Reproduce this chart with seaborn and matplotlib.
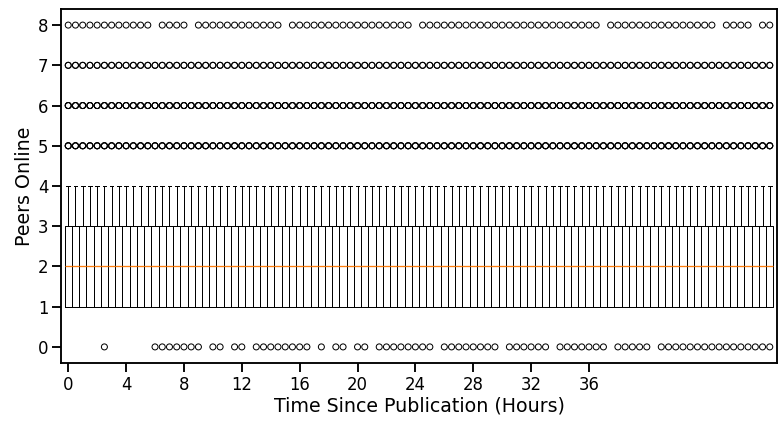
import matplotlib
matplotlib.use("Agg")
import matplotlib.pyplot as plt
import numpy as np
import pandas as pd
import seaborn as sns

# ---- data ----
# one box per half-hour bin, 0.0 .. 48.5 hours (98 bins)
n_bins = 98
bin_hours = [0.5 * i for i in range(n_bins)]

# every box shows identical summary statistics
box_q1 = [1] * n_bins
box_median = [2] * n_bins
box_q3 = [3] * n_bins
box_whislo = [1] * n_bins
box_whishi = [4] * n_bins

# outliers present in every bin at these peer counts
always_outliers = [5, 6, 7]
# outliers at 8 peers: bins (hours) without one
missing_8_hours = [6.0, 8.5, 15.0, 24.0, 37.0, 45.0, 47.5]
# outliers at 0 peers: bins (hours) that have one
zero_hours = [2.5,
              6.0, 6.5, 7.0, 7.5, 8.0, 8.5, 9.0,
              10.0, 10.5,
              11.5, 12.0,
              13.0, 13.5, 14.0, 14.5, 15.0, 15.5, 16.0, 16.5,
              17.5,
              18.5, 19.0,
              20.0, 20.5,
              21.5, 22.0, 22.5, 23.0, 23.5, 24.0, 24.5, 25.0,
              26.0, 26.5, 27.0, 27.5, 28.0, 28.5, 29.0, 29.5,
              30.5, 31.0, 31.5, 32.0, 32.5, 33.0,
              34.0, 34.5, 35.0, 35.5, 36.0, 36.5, 37.0,
              38.0, 38.5, 39.0, 39.5, 40.0,
              41.0, 41.5, 42.0, 42.5, 43.0, 43.5, 44.0, 44.5,
              45.0, 45.5, 46.0, 46.5, 47.0, 47.5, 48.0, 48.5]
# how many identical outliers overlap at each level (darkness of the rows)
outlier_repeats = {0: 1, 5: 3, 6: 3, 7: 2, 8: 1}

x_tick_values = [0, 4, 8, 12, 16, 20, 24, 28, 32, 36]
y_tick_values = [0, 1, 2, 3, 4, 5, 6, 7, 8]

# ---- figure ----
sns.set_context("talk")
plt.rcParams['font.family'] = ['DejaVu Sans']

W, H = 779, 423
fig = plt.figure(figsize=(W / 72, H / 72), dpi=72)
ax = fig.add_axes([61 / W, 1 - 363 / H, (777 - 61) / W, (363 - 9) / H])

stats = []
for q1, med, q3, lo, hi in zip(box_q1, box_median, box_q3, box_whislo, box_whishi):
    stats.append(dict(q1=q1, med=med, q3=q3, whislo=lo, whishi=hi, fliers=[]))

ax.bxp(stats, positions=bin_hours, widths=0.5, showfliers=False,
       manage_ticks=False,
       boxprops=dict(color="black", linewidth=1),
       whiskerprops=dict(color="black", linewidth=1),
       capprops=dict(color="black", linewidth=1),
       medianprops=dict(color="#ff7f0e", linewidth=1.3))

# outlier points
fx, fy = [], []
for h in bin_hours:
    for v in always_outliers:
        fx += [h] * outlier_repeats[v]
        fy += [v] * outlier_repeats[v]
    if h not in missing_8_hours:
        fx += [h] * outlier_repeats[8]
        fy += [8] * outlier_repeats[8]
for h in zero_hours:
    fx += [h] * outlier_repeats[0]
    fy += [0] * outlier_repeats[0]
flier_df = pd.DataFrame({"hour": fx, "peers": fy})

sns.scatterplot(data=flier_df, x="hour", y="peers", ax=ax, marker="o", s=36,
                facecolor="none", edgecolor="black", linewidth=1,
                legend=False, zorder=3)

ax.set_xlim(-0.5, 49.0)
ax.set_ylim(-0.4, 8.4)
ax.set_xticks(x_tick_values)
ax.set_xticklabels([str(v) for v in x_tick_values])
ax.set_yticks(y_tick_values)
ax.set_yticklabels([str(v) for v in y_tick_values])
ax.set_xlabel("Time Since Publication (Hours)", fontsize=19, labelpad=3)
ax.set_ylabel("Peers Online", fontsize=19)

fig.savefig("out.png", dpi=72)
